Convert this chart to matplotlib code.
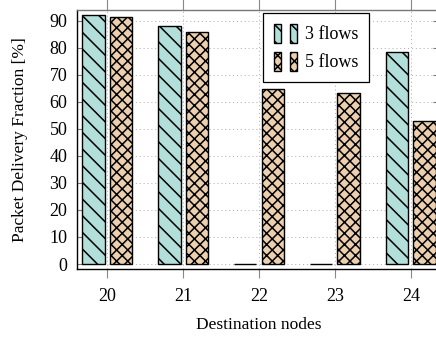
import numpy as np
import matplotlib
matplotlib.use('Agg')
import matplotlib.pyplot as plt
from matplotlib.patches import Patch
from matplotlib.legend_handler import HandlerTuple

nodes = [20, 21, 22, 23, 24]
flows3 = [92.2, 88.2, 0, 0, 78.5]
flows5 = [91.3, 85.7, 64.7, 63.1, 52.8]
labels = ['3 flows', '5 flows']

plt.rcParams['font.family'] = ['Liberation Serif', 'DejaVu Serif']
plt.rcParams['font.size'] = 13
plt.rcParams['hatch.linewidth'] = 1.1

c3 = '#b3dfda'
c5 = '#ebcfae'
hatch3 = '\\\\'
hatch5 = 'xxx'

fig = plt.figure(figsize=(4.36, 3.39), dpi=100)
ax = fig.add_axes([77 / 436, 1 - 269 / 339, 364 / 436, 259 / 339])

x = np.array(nodes, dtype=float)
w = 0.29
off = 0.178
ax.bar(x - off, flows3, w, color=c3, edgecolor='black', linewidth=1.0, hatch=hatch3, zorder=3)
ax.bar(x + off, flows5, w, color=c5, edgecolor='black', linewidth=1.0, hatch=hatch5, zorder=3)

ax.set_xlim(20 - 0.395, 24 + 0.395)
ax.set_ylim(-1.85, 94)
ax.set_xticks(nodes)
ax.set_yticks(range(0, 91, 10))
ax.grid(True, linestyle=(0, (1, 3)), color='#aaaaaa', linewidth=0.7, zorder=0)

ax.tick_params(axis='x', direction='out', top=True, color='#888888', length=6.5, width=0.8, pad=7.5)
ax.tick_params(axis='y', direction='in', right=True, color='#777777', length=6, width=0.8, pad=7)
for t in ax.xaxis.get_major_ticks():
    t.tick2line.set_markersize(9)

for s in ['left', 'bottom']:
    ax.spines[s].set_color('black')
    ax.spines[s].set_linewidth(1.0)
for s in ['top', 'right']:
    ax.spines[s].set_color('#777777')
    ax.spines[s].set_linewidth(1.0)

ax.set_xlabel('Destination nodes', fontsize=12.5, labelpad=8)
ax.set_ylabel('Packet Delivery Fraction [%]', fontsize=12.5, labelpad=15)

h3 = (Patch(facecolor=c3, edgecolor='black', hatch=hatch3, linewidth=1.0),
      Patch(facecolor=c3, edgecolor='black', hatch=hatch3, linewidth=1.0))
h5 = (Patch(facecolor=c5, edgecolor='black', hatch=hatch5, linewidth=1.0),
      Patch(facecolor=c5, edgecolor='black', hatch=hatch5, linewidth=1.0))
leg = fig.legend([h3, h5], labels,
                 handler_map={tuple: HandlerTuple(ndivide=None, pad=0.5)},
                 loc='upper left', bbox_to_anchor=(263 / 436, 1 - 13 / 339),
                 borderaxespad=0, borderpad=0.6, handlelength=1.28, handleheight=1.25,
                 handletextpad=0.45, labelspacing=0.45, fancybox=False, framealpha=1,
                 edgecolor='black')
leg.get_frame().set_linewidth(0.9)

fig.savefig('out.png', dpi=100)
